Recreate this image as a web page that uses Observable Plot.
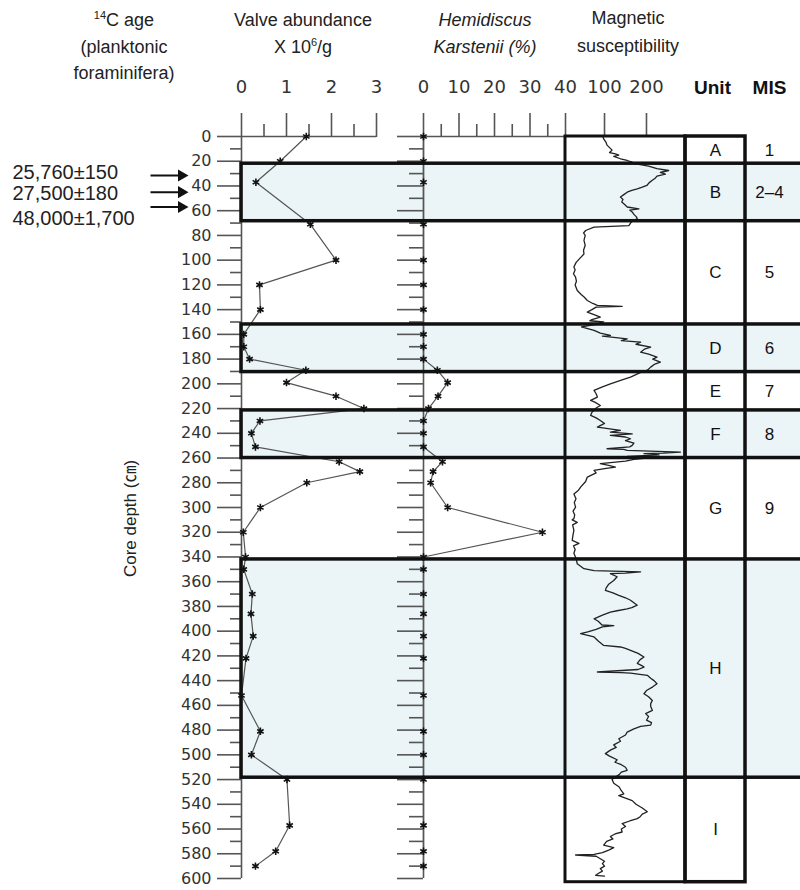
<!DOCTYPE html>
<html><head><meta charset="utf-8">
<script src="https://cdn.jsdelivr.net/npm/d3@7"></script>
<script src="https://cdn.jsdelivr.net/npm/@observablehq/plot@0.6"></script>
<style>
body{margin:0;background:#fff;}
#wrap{position:relative;width:800px;height:890px;overflow:hidden;font-family:"Liberation Sans",Arial,"Noto Sans CJK KR",sans-serif;color:#222;}
#wrap svg{position:absolute;left:0;top:0;}
.hdr{position:absolute;text-align:center;font-size:18px;white-space:nowrap;transform:translateX(-50%);}
.hdr sup{font-size:11px;vertical-align:7px;line-height:0;}
</style></head><body><div id="wrap">
<div class="hdr" style="left:124px;top:7px;line-height:26.5px"><sup>14</sup>C age<br>(planktonic<br>foraminifera)</div>
<div class="hdr" style="left:303px;top:7px;line-height:27px">Valve abundance<br>X 10<sup>6</sup>/g</div>
<div class="hdr" style="left:485px;top:7px;line-height:27px;font-style:italic">Hemidiscus<br>Karstenii (%)</div>
<div class="hdr" style="left:628px;top:4px;line-height:28px">Magnetic<br>susceptibility</div>
</div>
<script>
// ---- data ----
const sampleDepth = [0,20,37,71,100,120,140,160,170,180,189,199,210,220,230,240,251,263,271,280,300,320,340,350,370,386,404,422,452,481,500,520,557,578,590];
const valve = [1.44,0.86,0.32,1.53,2.1,0.4,0.42,0.05,0.05,0.18,1.43,1.0,2.1,2.72,0.41,0.22,0.31,2.17,2.63,1.45,0.42,0.04,0.09,0.05,0.24,0.21,0.26,0.1,0.0,0.42,0.22,1.01,1.07,0.76,0.31];
const hemidiscus = [0,0,0,0,0,0,0,0,0,0,3.9,6.8,4.1,1.4,0,0,0,5.35,2.7,2.0,6.8,33.5,0,0,0,0,0,0,0,0,0,0,0,0,0];
const magReadings = [[0,96],[2,98],[5,104],[7,106],[9,112],[11,118],[13,112],[14,126],[15,134],[16,122],[18,138],[19.4,154],[20.8,166],[22,172],[24,205],[26,225],[27.5,253],[28.5,240],[29,233],[30.5,245],[32,225],[34,220],[35.6,213],[37.5,206],[39.6,201],[41,190],[42.3,178],[43.5,165],[45,154],[47,146],[49,138],[51,144],[53,141],[55,148],[57,154],[58.5,182],[59.5,160],[61,166],[63,170],[65,176],[66.5,178],[68,168],[70,162],[72,158],[73.3,75],[76,55],[78,50],[80,54],[84,51],[88,54],[92,50],[95,51],[99,40],[102,32],[105.6,27],[108,30],[111,26],[113.7,31],[117,33],[120,30],[124.5,35],[128,45],[130,52],[132.6,59],[135,72],[136.6,83],[137.4,142],[138,80],[140,70],[142,59],[144,75],[146,90],[148,70],[149,65],[150,98],[152,80],[154,45],[156.8,75],[159,90],[160.9,114],[161.5,95],[163.6,154],[165,140],[166.3,186],[168,175],[170.3,210],[172,195],[174.4,186],[176,205],[178.4,225],[180,215],[182.5,233],[184,220],[186.5,210],[189,202],[191,185],[194.6,162],[197,140],[200,114],[202.5,95],[205.3,75],[208,80],[210.7,83],[213.4,67],[215,78],[217.5,90],[219.5,80],[221.5,75],[223,70],[225.5,67],[227.5,80],[229.6,90],[232,100],[235,83],[237.7,138],[239,114],[240.5,166],[241.7,114],[243,150],[244.4,162],[246,150],[248,170],[249.8,166],[251,160],[252.5,106],[253,146],[253.8,154],[255.2,281],[256,240],[256.5,194],[257.5,230],[258.7,154],[260,200],[261,170],[262.5,150],[264.6,90],[266,110],[267.3,126],[268.5,100],[270,75],[272,80],[275.4,59],[279,55],[283.5,43],[286,38],[289,27],[293,32],[296,28],[299.7,31],[303,25],[306,29],[309,27],[310,23],[312,35],[314,24],[318.5,27],[322,25],[326.6,23],[329,39],[331,26],[334,30],[337,27],[341,32],[345.5,35],[349.5,51],[351,75],[352,186],[353,150],[353.5,114],[356,130],[359,122],[362,110],[365,104],[367,102],[369,120],[371,134],[373,150],[375,162],[377,170],[379,178],[381,165],[382,154],[383.5,130],[384.6,114],[387,95],[390,75],[392,85],[395,94],[395.5,122],[396.5,95],[398.5,80],[400.5,60],[402,43],[404.7,75],[408,85],[411.5,98],[412.8,138],[414,150],[415.5,162],[418,180],[420.9,194],[423,185],[426,178],[428,190],[429,194],[431,180],[433,83],[433.5,140],[434,162],[435.7,202],[438,210],[440,218],[442.5,225],[445,215],[448,200],[450.6,194],[453,205],[456,214],[458.6,210],[461,210],[464,214],[466.7,198],[469,205],[472,200],[474,212],[476,210],[477,186],[479,170],[481.6,154],[484,150],[487,134],[489,138],[492,122],[494,128],[496,115],[499,102],[501,112],[504,130],[506,125],[508,140],[510,150],[512.5,154],[514,140],[516,135],[518,126],[520,118],[523,122],[526,135],[529,140],[531.5,146],[533,134],[535,150],[537,166],[540,175],[543,190],[546,202],[548,190],[550,185],[551.6,178],[553.5,160],[555.6,142],[558,150],[560,140],[562.4,142],[564,125],[566,114],[568,120],[570,105],[573,98],[575,122],[577,110],[579,95],[580.5,75],[581,31],[582,80],[584,90],[586,100],[588,95],[590,100],[592,90],[594,95],[596,85],[597.4,79],[598,100]];
const units = ["A","B","C","D","E","F","G","H","I"];
const misLabels = ["1","2\u20134","5","6","7","8","9","",""];
const unitTop = [0,22,68.5,152,190.5,221.5,260,342,518.5];
const unitBottom = [22,68.5,152,190.5,221.5,260,342,518.5,603];
const unitShaded = [false,true,false,true,false,true,false,true,false];
const ageLabels = ["25,760\u00b1150","27,500\u00b1180","48,000\u00b11,700"];
const ageArrowDepth = [31.5,45,57];
const ageTextDepth = [29,46,66];
const depthTicks = d3.range(0,601,20);
const depthMinor = d3.range(10,600,20);
const valveTicks = [0,1,2,3], valveMinor = [0.5,1.5,2.5];
const hemiTicks = [0,10,20,30,40], hemiMinor = [5,15,25,35];
const magTicks = [100,200];
const depthLabel = "Core depth (\u339d)";

// ---- drawing ----
const NUM = "'DejaVu Sans', sans-serif";
const TXT = "'Liberation Sans', Arial, 'Noto Sans CJK KR', sans-serif";
const AX = "#555";
function base(o){
  return Object.assign({width:800,height:890,marginTop:136,marginBottom:12,
    y:{domain:[0,600],reverse:true,axis:null},
    style:{background:"transparent",maxWidth:"none",overflow:"visible",fontFamily:NUM,fontSize:"16px",color:"#333"}}, o);
}
const wrap = document.getElementById("wrap");
const add = p => wrap.appendChild(p);
const idx = sampleDepth.map((_, i) => i);
const shaded = units.map((_, i) => i).filter(i => unitShaded[i]);
const uIdx = units.map((_, i) => i);

// band fills
add(Plot.plot(base({width:810, marginLeft:241, marginRight:0, marks:[
  Plot.rect(shaded, {y1: i => unitTop[i], y2: i => unitBottom[i], fill:"#ebf4f6"})
]})));

function topLabels(ticks){
  return Plot.text(ticks, {x: d => d, text: d => String(d), frameAnchor:"top", lineAnchor:"middle", dy:-49, fontSize:18, fill:"#333"});
}

// valve abundance
add(Plot.plot(base({marginLeft:241, marginRight:424, x:{domain:[0,3],axis:null}, marks:[
  Plot.axisY({ticks: depthTicks, tickSize:24, tickPadding:6, stroke:AX, strokeWidth:1.6, fill:"#333", fontSize:16}),
  Plot.axisY({ticks: depthMinor, tickSize:11, tickFormat:() => "", stroke:AX, strokeWidth:1.6}),
  Plot.axisX({anchor:"top", ticks: valveTicks, tickSize:24, tickFormat:() => "", stroke:AX, strokeWidth:1.6}),
  Plot.axisX({anchor:"top", ticks: valveMinor, tickSize:13, tickFormat:() => "", stroke:AX, strokeWidth:1.6}),
  topLabels(valveTicks),
  Plot.ruleX([0], {stroke:AX, strokeWidth:1.6}),
  Plot.ruleY([0], {stroke:AX, strokeWidth:1.6}),
  Plot.line(idx, {x: i => valve[i], y: i => sampleDepth[i], stroke:"#555", strokeWidth:1.2}),
  Plot.dot(idx, {x: i => valve[i], y: i => sampleDepth[i], symbol:"asterisk", r:3.5, stroke:"#111", strokeWidth:1.6}),
  Plot.text([depthLabel], {frameAnchor:"left", textAnchor:"middle", lineAnchor:"middle", rotate:-90, dx:-111, dy:11, fontFamily:TXT, fontSize:17, fill:"#222"})
]})));

// Hemidiscus
add(Plot.plot(base({marginLeft:423, marginRight:235, x:{domain:[0,40],axis:null}, marks:[
  Plot.axisY({ticks: depthTicks, tickSize:26, tickFormat:() => "", stroke:AX, strokeWidth:1.6}),
  Plot.axisY({ticks: depthMinor, tickSize:14, tickFormat:() => "", stroke:AX, strokeWidth:1.6}),
  Plot.axisX({anchor:"top", ticks: hemiTicks, tickSize:24, tickFormat:() => "", stroke:AX, strokeWidth:1.6}),
  Plot.axisX({anchor:"top", ticks: hemiMinor, tickSize:13, tickFormat:() => "", stroke:AX, strokeWidth:1.6}),
  topLabels(hemiTicks),
  Plot.ruleX([0], {stroke:AX, strokeWidth:1.6}),
  Plot.ruleY([0], {stroke:AX, strokeWidth:1.6}),
  Plot.line(idx, {x: i => hemidiscus[i], y: i => sampleDepth[i], stroke:"#555", strokeWidth:1.2}),
  Plot.dot(idx, {x: i => hemidiscus[i], y: i => sampleDepth[i], symbol:"asterisk", r:3.5, stroke:"#111", strokeWidth:1.6})
]})));

// magnetic susceptibility
add(Plot.plot(base({marginLeft:565, marginRight:115, x:{domain:[7,293],axis:null}, marks:[
  Plot.axisX({anchor:"top", ticks: magTicks, tickSize:24, tickFormat:() => "", stroke:AX, strokeWidth:1.6}),
  topLabels(magTicks),
  Plot.line(magReadings, {x: d => d[1], y: d => d[0], stroke:"#222", strokeWidth:1.3}),
  Plot.rect([0], {y1: () => 0, y2: () => 603, fill:"none", stroke:"#111", strokeWidth:3})
]})));

// unit / MIS columns
add(Plot.plot(base({width:810, marginLeft:685, marginRight:5, x:{type:"band", domain:["Unit","MIS"], padding:0, axis:null}, marks:[
  Plot.barY([0], {x: () => "Unit", y1: () => 0, y2: () => 603, fill:"none", stroke:"#111", strokeWidth:3.5}),
  Plot.text(uIdx, {x: () => "Unit", y: i => (unitTop[i] + unitBottom[i]) / 2, text: i => units[i], fontFamily:TXT, fontSize:17, fill:"#111"}),
  Plot.text(uIdx, {x: () => "MIS", y: i => (unitTop[i] + unitBottom[i]) / 2, text: i => misLabels[i], dx:-6, fontFamily:TXT, fontSize:17, fill:"#111"}),
  Plot.text(["Unit"], {x: d => d, text: d => d, frameAnchor:"top", lineAnchor:"middle", dy:-49, dx:-3, fontFamily:TXT, fontSize:19, fontWeight:"bold", fill:"#111"}),
  Plot.text(["MIS"], {x: d => d, text: d => d, frameAnchor:"top", lineAnchor:"middle", dy:-49, dx:-6, fontFamily:TXT, fontSize:19, fontWeight:"bold", fill:"#111"})
]})));

// band borders on top
add(Plot.plot(base({width:810, marginLeft:241, marginRight:0, marks:[
  Plot.rect(shaded, {y1: i => unitTop[i], y2: i => unitBottom[i], fill:"none", stroke:"#111", strokeWidth:3.5})
]})));

// 14C ages with arrows
const aIdx = ageLabels.map((_, i) => i);
add(Plot.plot(base({marginLeft:150, marginRight:617, x:{domain:[0,1],axis:null}, marks:[
  Plot.link(aIdx, {x1: () => 0, x2: () => 1, y1: i => ageArrowDepth[i], y2: i => ageArrowDepth[i], stroke:"#111", strokeWidth:2}),
  Plot.dot(aIdx, {x: () => 1, y: i => ageArrowDepth[i], symbol:"triangle", rotate:90, r:4.5, fill:"#111", dx:-2}),
  Plot.text(aIdx, {x: () => 0, y: i => ageTextDepth[i], text: i => ageLabels[i], textAnchor:"start", dx:-138, fontFamily:TXT, fontSize:20, fill:"#222"})
]})));
</script></body></html>
